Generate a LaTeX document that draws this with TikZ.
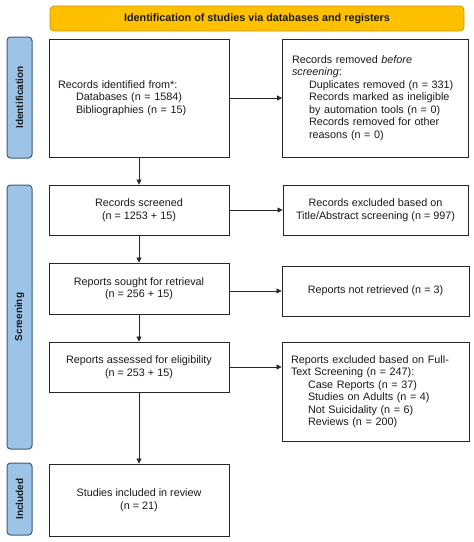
\documentclass[tikz,border=0pt]{standalone}
\usepackage{fontspec}
\setmainfont{Liberation Sans}
\usetikzlibrary{arrows.meta}
\definecolor{sidefill}{HTML}{9DC3E6}
\definecolor{sideline}{HTML}{3E5C78}
\definecolor{banfill}{HTML}{FFC000}
\definecolor{banline}{HTML}{C99A10}
\definecolor{txt}{HTML}{1A1A1A}
\begin{document}
\begin{tikzpicture}[x=1pt,y=-1pt,
  box/.style={draw=black!85, line width=0.9pt, fill=white, inner sep=0pt,
    font=\fontsize{10.8}{12.5}\selectfont, text=txt},
  lbox/.style={box, align=left, inner xsep=9pt},
  cbox/.style={box, align=center},
  side/.style={draw=sideline, line width=1pt, fill=sidefill,
    rounded corners=3.5pt, rotate=90, inner sep=0pt, minimum height=25pt,
    text=txt, font=\bfseries\fontsize{10}{11}\selectfont},
  banner/.style={draw=banline, line width=0.8pt, fill=banfill,
    rounded corners=4pt, inner sep=0pt, text=txt, font=\bfseries\fontsize{10.8}{12}\selectfont},
  arr/.style={draw=black!85, line width=0.8pt, -{Triangle[length=5pt,width=5pt]}}
]
\useasboundingbox (0,0) rectangle (474,542);
\fill[white] (0,0) rectangle (474,542);

% banner and phase labels
\node[banner, minimum width=414pt, minimum height=25pt] (top) at (257,18.5)
  {Identification of studies via databases and registers};
\node[side, minimum width=121pt] (sid) at (19.5,97.5) {Identification};
\node[side, minimum width=264pt] (sscr) at (19.5,317) {Screening};
\node[side, minimum width=72pt] (sinc) at (19.5,499) {Included};

% left column
\node[lbox, text width=162pt, minimum height=118pt] (ident) at (139,98)
  {Records identified from*:\\
   \hspace*{18pt}Databases (n = 1584)\\
   \hspace*{18pt}Bibliographies (n = 15)};
\node[cbox, minimum width=180pt, minimum height=50pt] (screened) at (139,210)
  {Records screened\\(n = 1253 + 15)};
\node[cbox, minimum width=180pt, minimum height=51pt] (sought) at (139,288.5)
  {Reports sought for retrieval\\(n = 256 + 15)};
\node[cbox, minimum width=180pt, minimum height=50pt] (assessed) at (139,367)
  {Reports assessed for eligibility\\(n = 253 + 15)};
\node[cbox, minimum width=180pt, minimum height=72pt] (included) at (139,500)
  {Studies included in review\\(n = 21)};

% right column
\node[lbox, text width=167pt, inner xsep=9.5pt, minimum height=118pt] (removed) at (375.5,98)
  {Records removed \textit{before}\\
   \textit{screening}:\\
   \hspace*{17pt}Duplicates removed (n = 331)\\
   \hspace*{17pt}Records marked as ineligible\\
   \hspace*{17pt}by automation tools (n = 0)\\
   \hspace*{17pt}Records removed for other\\
   \hspace*{17pt}reasons (n = 0)};
\node[cbox, minimum width=185pt, minimum height=50pt] (excl1) at (375.5,210)
  {Records excluded based on\\Title/Abstract screening (n = 997)};
\node[cbox, minimum width=187pt, minimum height=50pt] (notret) at (375.5,291)
  {Reports not retrieved (n = 3)};
\node[lbox, text width=169pt, minimum height=99pt] (excl2) at (375.5,391.5)
  {Reports excluded based on Full-\\
   Text Screening (n = 247):\\
   \hspace*{17pt}Case Reports (n = 37)\\
   \hspace*{17pt}Studies on Adults (n = 4)\\
   \hspace*{17pt}Not Suicidality (n = 6)\\
   \hspace*{17pt}Reviews (n = 200)};

% connectors
\draw[arr] (ident.south) -- (screened.north);
\draw[arr] (screened.south) -- (sought.north);
\draw[arr] (sought.south) -- (assessed.north);
\draw[arr] (assessed.south) -- (included.north);
\draw[arr] (ident.east) -- (removed.west);
\draw[arr] (screened.east) -- (excl1.west);
\draw[arr] (sought.east |- notret.west) -- (notret.west);
\draw[arr] (assessed.east) -- (assessed.east -| excl2.west);
\end{tikzpicture}
\end{document}
